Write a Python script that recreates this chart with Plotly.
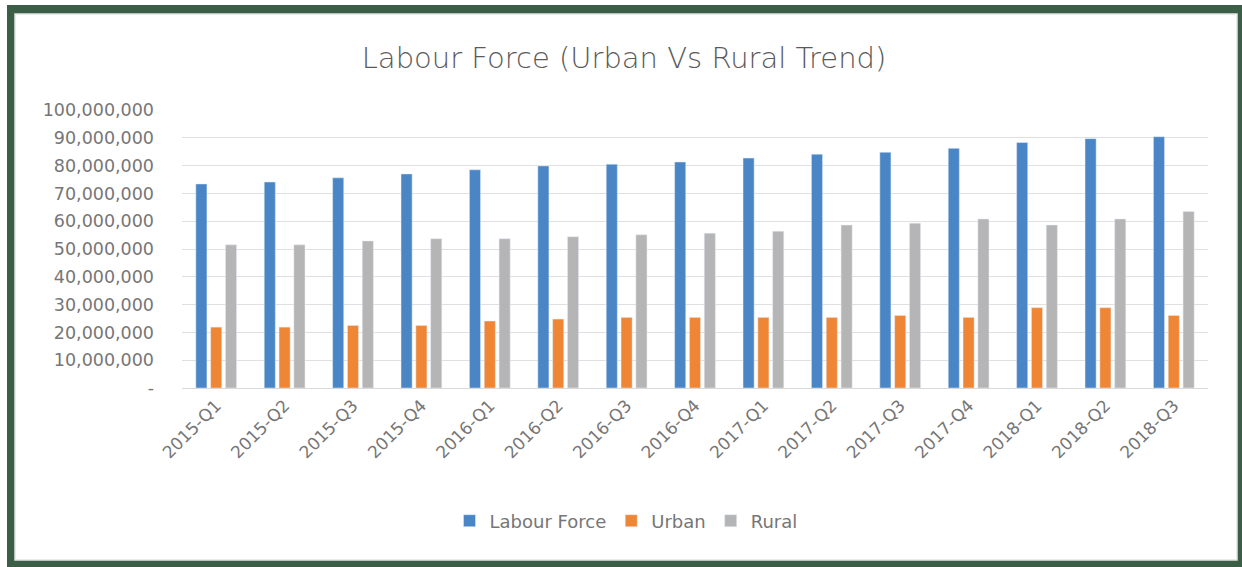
import plotly.graph_objects as go

categories = ["2015-Q1", "2015-Q2", "2015-Q3", "2015-Q4",
              "2016-Q1", "2016-Q2", "2016-Q3", "2016-Q4",
              "2017-Q1", "2017-Q2", "2017-Q3", "2017-Q4",
              "2018-Q1", "2018-Q2", "2018-Q3"]
labour_force = [73.4e6, 74.1e6, 75.6e6, 77.0e6, 78.5e6, 79.9e6, 80.5e6, 81.3e6,
                82.7e6, 84.1e6, 84.8e6, 86.2e6, 88.3e6, 89.7e6, 90.4e6]
urban = [21.9e6, 21.9e6, 22.5e6, 22.5e6, 24.1e6, 24.8e6, 25.4e6, 25.4e6,
         25.4e6, 25.4e6, 26.1e6, 25.4e6, 28.9e6, 28.9e6, 26.1e6]
rural = [51.5e6, 51.5e6, 52.9e6, 53.7e6, 53.7e6, 54.4e6, 55.1e6, 55.7e6,
         56.4e6, 58.6e6, 59.3e6, 60.8e6, 58.6e6, 60.8e6, 63.5e6]
y_tickvals = [0, 10e6, 20e6, 30e6, 40e6, 50e6, 60e6, 70e6, 80e6, 90e6, 100e6]
y_ticktext = ["-", "10,000,000", "20,000,000", "30,000,000", "40,000,000",
              "50,000,000", "60,000,000", "70,000,000", "80,000,000",
              "90,000,000", "100,000,000"]
title_text = "Labour Force (Urban Vs Rural Trend)"

W, H = 1242, 567
L, R, T, B = 182, 34, 110, 179
PW, PH = W - L - R, H - T - B

def px_x(px):
    return (px - L) / PW

def px_y(py):
    return (H - B - py) / PH

FONT = "DejaVu Sans"
TXT = "#767676"

fig = go.Figure()
fig.add_bar(x=categories, y=labour_force, name="Labour Force", marker_color="#4a86c6")
fig.add_bar(x=categories, y=urban, name="Urban", marker_color="#ef8636")
fig.add_bar(x=categories, y=rural, name="Rural", marker_color="#b5b5b5")

fig.update_layout(
    width=W, height=H,
    margin=dict(l=L, r=R, t=T, b=B, pad=0),
    paper_bgcolor="white",
    plot_bgcolor="rgba(0,0,0,0)",
    barmode="group",
    bargap=0.35,
    bargroupgap=0.25,
    title=dict(text=title_text, x=624 / W, xanchor="center", y=1 - 58 / H, yanchor="middle",
               xref="container", yref="container",
               font=dict(family=FONT, size=29, color="#5a5a5a", weight=300)),
    font=dict(family=FONT, color=TXT),
    showlegend=True,
    legend=dict(orientation="h", x=px_x(626), xanchor="center", y=px_y(521), yanchor="middle",
                font=dict(family=FONT, size=18, color=TXT), bgcolor="rgba(0,0,0,0)"),
    shapes=[
        dict(type="rect", xref="paper", yref="paper", layer="below",
             x0=px_x(7), x1=px_x(1260), y0=px_y(5), y1=px_y(580),
             fillcolor="#3b5e47", line=dict(width=0)),
        dict(type="rect", xref="paper", yref="paper", layer="below",
             x0=px_x(15), x1=px_x(1237), y0=px_y(14), y1=px_y(560),
             fillcolor="white", line=dict(color="#e3e3e3", width=1.5)),
    ],
)
fig.update_xaxes(
    type="category", tickangle=-45, showgrid=False,
    showline=True, linecolor="#d9d9d9", linewidth=1,
    ticks="", tickfont=dict(family=FONT, size=17, color=TXT),
)
fig.update_yaxes(
    range=[0, 100e6], tickvals=y_tickvals, ticktext=y_ticktext,
    showgrid=True, gridcolor="#e0e0e0", gridwidth=1, zeroline=False,
    showline=False, ticks="", ticklabelstandoff=27,
    tickfont=dict(family=FONT, size=17.5, color=TXT),
)

fig.write_html("out.html", config={"displayModeBar": False},
               post_script="document.body.style.margin='0';")
